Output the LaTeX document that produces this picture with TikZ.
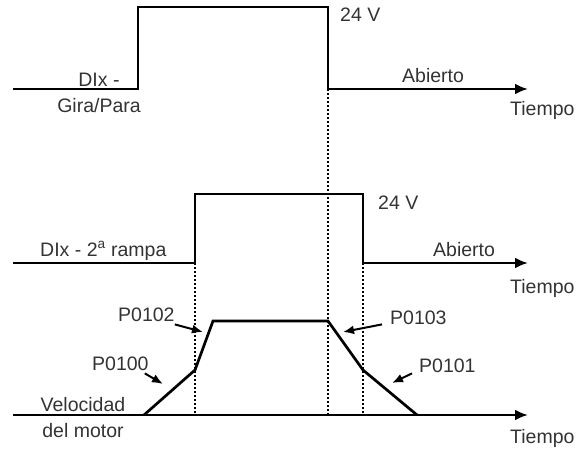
\documentclass[tikz,border=0pt]{standalone}
\usepackage{fontspec}
\setmainfont{Liberation Sans}
\usetikzlibrary{arrows.meta}
\begin{document}
\begin{tikzpicture}[x=1pt, y=-1pt, font=\fontsize{19.5}{25.5}\selectfont, line join=miter,
	>={Latex[length=13pt,width=11pt]},
	signal/.style={line width=2.7pt},
	guide/.style={line width=1.3pt, dash pattern=on 2pt off 2pt},
	parrow/.style={line width=2pt, -{Latex[length=11pt,width=9pt]}},
	lbl/.style={inner sep=0pt, text=black!80, anchor=base west}]
	\useasboundingbox (0,0) rectangle (579,450);
	% Gira/Para, 2a rampa, velocidad
	\foreach \n/\x/\y in {t0/13/89, t1/138/89, t2/138/7, t3/328/7, t4/328/89, t5/528/89,
		m0/13/263, m1/195/263, m2/195/194, m3/363/194, m4/363/263, m5/528/263,
		b0/13/415, b5/528/415, v0/144/415, v1/195/370, v2/213/321, v3/328/321, v4/363/370, v5/417/415,
		e102/203/332, e100/163/384, e103/343/332, e101/392/383}
	\coordinate (\n) at (\x,\y);
	\draw[guide] (t4) -- (t4|-b0);
	\draw[guide] (m1) -- (m1|-b0);
	\draw[guide] (m4) -- (m4|-b0);
	\draw[signal,->] (t0) -- (t1) -- (t2) -- (t3) -- (t4) -- (t5);
	\draw[signal,->] (m0) -- (m1) -- (m2) -- (m3) -- (m4) -- (m5);
	\draw[signal,->] (b0) -- (b5);
	\draw[signal] (v0) -- (v1) -- (v2) -- (v3) -- (v4) -- (v5);
	\node[lbl, anchor=base, align=center] (gira) at (99,112) {DIx -\\Gira/Para};
	\node[lbl] (top24) at (340,21) {24 V};
	\node[lbl] (topab) at (402,82) {Abierto};
	\node[lbl] (toptiempo) at (510,115) {Tiempo};
	\node[lbl] (rampa) at (40,256) {DIx - 2\textsuperscript{a} rampa};
	\node[lbl] (mid24) at (378,209) {24 V};
	\node[lbl] (midab) at (433,256) {Abierto};
	\node[lbl] (midtiempo) at (510,293) {Tiempo};
	\node[lbl, anchor=base, align=center] (vel) at (83,437) {Velocidad\\del motor};
	\node[lbl] (bottiempo) at (510,443) {Tiempo};
	\node[lbl] (p102) at (118,321) {P0102};
	\node[lbl] (p100) at (92,370) {P0100};
	\node[lbl] (p103) at (390,324) {P0103};
	\node[lbl] (p101) at (419,372) {P0101};
	\draw[parrow] ([yshift=-3pt]p102.south east) -- (e102);
	\draw[parrow] ([xshift=-4pt,yshift=-3pt]p100.south east) -- (e100);
	\draw[parrow] ([xshift=-8pt]p103.south west) -- (e103);
	\draw[parrow] ([xshift=-7pt,yshift=-1pt]p101.south west) -- (e101);
\end{tikzpicture}
\end{document}
